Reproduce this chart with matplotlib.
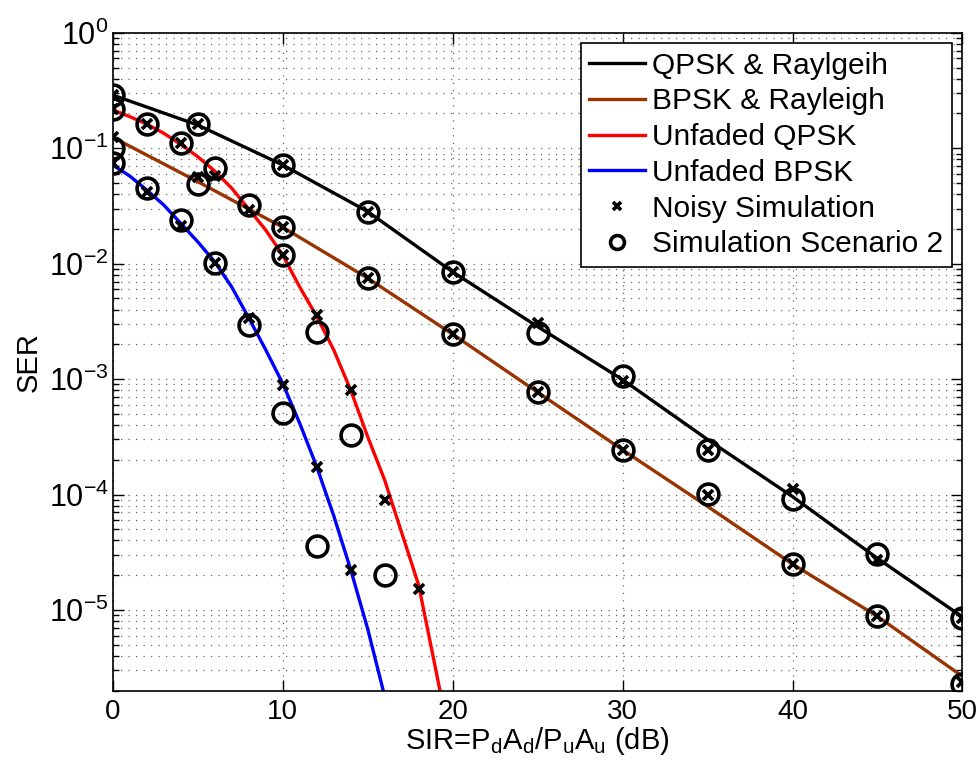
import matplotlib
matplotlib.use("Agg")
from matplotlib import pyplot as plt
import numpy as np

plt.rcParams['font.family'] = ['Liberation Sans', 'DejaVu Sans']
plt.rcParams['mathtext.fontset'] = 'custom'
plt.rcParams['mathtext.rm'] = 'Liberation Sans'
plt.rcParams['mathtext.it'] = 'Liberation Sans:italic'

# theory curves
x_ray = [0, 5, 10, 15, 20, 25, 30, 35, 40, 45, 50]
qpsk_ray = [0.289, 0.159, 0.0717, 0.0283, 0.0085, 0.00285, 9.9e-4, 3.0e-4, 9.6e-5, 2.8e-5, 8.7e-6]
bpsk_ray = [0.1245, 0.0514, 0.0207, 0.0075, 0.00245, 7.7e-4, 2.44e-4, 7.9e-5, 2.5e-5, 8.8e-6, 2.66e-6]

x_qpsk = [0, 1, 2, 3, 4, 5, 6, 7, 8, 9, 10, 11, 12, 13, 14, 15, 16, 17, 18, 19, 20]
qpsk_awgn = [0.215, 0.188, 0.162, 0.135, 0.108, 0.0846, 0.0635, 0.0451, 0.0298, 0.0196, 0.0119,
             6.3e-3, 3.5e-3, 1.8e-3, 8.07e-4, 3.18e-4, 1.34e-4, 4.7e-5, 1.65e-5, 3.1e-6, 5.6e-7]

x_bpsk = [0, 1, 2, 3, 4, 5, 6, 7, 8, 9, 10, 11, 12, 13, 14, 15, 16]
bpsk_awgn = [0.0717, 0.0575, 0.0435, 0.0323, 0.0224, 0.0155, 0.0104, 0.0063, 0.0034, 1.8e-3,
             9.2e-4, 4.16e-4, 1.75e-4, 6.6e-5, 2.25e-5, 6.9e-6, 1.8e-6]

# noisy simulation (x markers)
xn_ray = [0, 5, 10, 15, 20, 25, 30, 35, 40, 45, 50]
noisy_qray = [0.289, 0.161, 0.0717, 0.028, 0.00855, 0.00305, 9.6e-4, 2.45e-4, 1.11e-4, 2.72e-5, 8.6e-6]
noisy_bray = [0.1245, 0.0568, 0.0207, 0.0075, 0.00245, 7.7e-4, 2.44e-4, 1.0e-4, 2.5e-5, 8.9e-6, 2.4e-6]
xn_q = [0, 2, 4, 6, 8, 10, 12, 14, 16, 18]
noisy_q = [0.219, 0.161, 0.112, 0.057, 0.0292, 0.0119, 0.0036, 7.97e-4, 9.0e-5, 1.52e-5]
xn_b = [0, 2, 4, 6, 8, 10, 12, 14]
noisy_b = [0.0742, 0.042, 0.021, 0.0101, 0.00337, 8.9e-4, 1.75e-4, 2.2e-5]

# simulation scenario 2 (circles)
sim_qray = [0.289, 0.161, 0.0717, 0.028, 0.00855, 0.00253, 0.00107, 2.41e-4, 9.1e-5, 3.07e-5, 8.6e-6]
sim_bray = [0.1, 0.049, 0.0207, 0.0075, 0.00245, 7.7e-4, 2.44e-4, 1.01e-4, 2.5e-5, 8.9e-6, 2.3e-6]
xs_q = [0, 2, 4, 6, 8, 10, 12, 14, 16]
sim_q = [0.219, 0.161, 0.112, 0.067, 0.0323, 0.0119, 0.00258, 3.3e-4, 2.02e-5]
xs_b = [0, 2, 4, 6, 8, 10, 12]
sim_b = [0.0742, 0.0456, 0.0239, 0.0101, 0.00295, 5.1e-4, 3.6e-5]

fig = plt.figure(figsize=(9.79, 7.7), dpi=100)
ax = fig.add_axes([0.1151, 0.103, 0.868, 0.8544])

lw = 2.4
brown = '#993300'
ax.semilogy(x_ray, qpsk_ray, color='k', lw=lw, label='QPSK & Raylgeih')
ax.semilogy(x_ray, bpsk_ray, color=brown, lw=lw, label='BPSK & Rayleigh')
ax.semilogy(x_qpsk, qpsk_awgn, color='#ff0000', lw=lw, label='Unfaded QPSK')
ax.semilogy(x_bpsk, bpsk_awgn, color='#0000ff', lw=lw, label='Unfaded BPSK')

xkw = dict(ls='none', marker='x', color='k', ms=7, mew=2.6)
okw = dict(ls='none', marker='o', mfc='none', mec='k', ms=15, mew=2.6)
ax.plot(xn_ray, noisy_qray, label='Noisy Simulation', **xkw)
ax.plot(xn_ray, noisy_bray, **xkw)
ax.plot(xn_q, noisy_q, **xkw)
ax.plot(xn_b, noisy_b, **xkw)
ax.plot(xn_ray, sim_qray, label='Simulation Scenario 2', **okw)
ax.plot(xn_ray, sim_bray, **okw)
ax.plot(xs_q, sim_q, **okw)
ax.plot(xs_b, sim_b, **okw)

ax.set_xlim(0, 50)
ax.set_ylim(2e-6, 1)
ax.set_xticks([0, 10, 20, 30, 40, 50])
ax.grid(True, which='major', color='0.4', ls=(0, (1, 5)), lw=0.9)
ax.grid(True, which='minor', axis='y', color='0.4', ls=(0, (1, 5)), lw=0.9)
ax.tick_params(which='both', direction='in', top=True, right=True, width=1)
ax.tick_params(axis='x', labelsize=20, pad=6)
ax.tick_params(axis='y', labelsize=22, pad=3)
ax.tick_params(which='major', length=8)
ax.tick_params(which='minor', length=4)
for s in ax.spines.values():
    s.set_linewidth(1.2)

ax.set_xlabel(r'SIR=P$_\mathrm{d}$A$_\mathrm{d}$/P$_\mathrm{u}$A$_\mathrm{u}$ (dB)', fontsize=21, labelpad=0)
ax.set_ylabel('SER', fontsize=21, labelpad=4)

leg = ax.legend(loc='upper right', bbox_to_anchor=(0.988, 0.985), fontsize=21.5,
                frameon=True, fancybox=False, edgecolor='k', framealpha=1,
                handlelength=1.85, handletextpad=0.25, labelspacing=0.26, borderpad=0.3,
                borderaxespad=0)
leg.get_frame().set_linewidth(1.2)
hs = leg.legend_handles
hs[4].set_markersize(6)
hs[5].set_markersize(10)

fig.savefig('out.png', dpi=100)
